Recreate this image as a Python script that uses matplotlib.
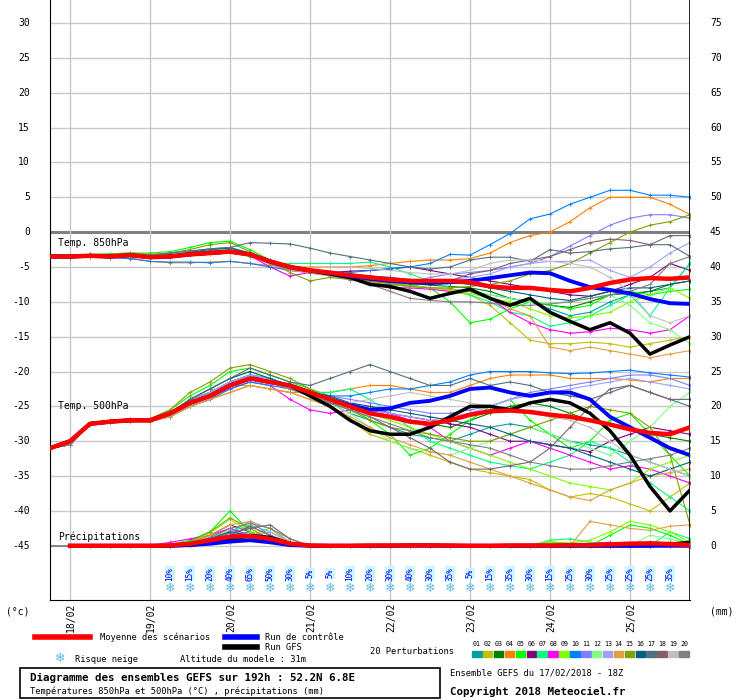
import matplotlib
matplotlib.use("Agg")
import matplotlib.pyplot as plt
import numpy as np
from matplotlib.patches import Rectangle

steps = list(range(33))  # 6-hourly steps from 17/02 18Z
day_labels = ["18/02","19/02","20/02","21/02","22/02","23/02","24/02","25/02"]
day_steps = [1,5,9,13,17,21,25,29]

member_colors = ["#00a0a0","#c0c000","#008000","#ff8000","#00ff00","#800080","#00ff80","#ff00ff",
                 "#80ff00","#0080ff","#8080ff","#80ff80","#a0a0ff","#e0a040","#80a000","#006080",
                 "#507080","#806070","#c0c0c0","#808080"]

mean850 = [-3.5,-3.5,-3.4,-3.5,-3.3,-3.6,-3.5,-3.2,-3.0,-2.8,-3.2,-4.2,-5.0,-5.5,-5.8,-6.2,-6.5,-6.8,-7.0,-7.0,-7.0,-7.2,-7.8,-8.0,-8.0,-8.3,-8.5,-8.0,-7.3,-6.8,-6.6,-6.7,-6.5]
ctrl850 = [-3.5,-3.5,-3.4,-3.5,-3.3,-3.6,-3.5,-3.2,-3.0,-2.8,-3.2,-4.2,-5.0,-5.5,-5.9,-6.3,-6.7,-7.0,-7.2,-7.3,-7.2,-7.0,-6.6,-6.2,-5.8,-5.9,-7.0,-7.9,-8.3,-8.8,-9.6,-10.2,-10.3]
gfs850 = [-3.5,-3.5,-3.4,-3.5,-3.3,-3.6,-3.5,-3.2,-3.0,-2.8,-3.2,-4.2,-5.0,-5.5,-6.0,-6.5,-7.5,-7.8,-8.5,-9.5,-8.8,-8.2,-9.5,-10.5,-9.5,-11.5,-12.8,-14.0,-13.0,-14.5,-17.5,-16.2,-15.0]

mean500 = [-31,-30,-27.5,-27.2,-27,-27,-26,-24.5,-23.5,-22,-21,-21.5,-22,-23,-24,-25,-26,-26.5,-27.2,-27.5,-27,-26.2,-25.7,-25.6,-25.8,-26.2,-26.5,-27,-27.6,-28.3,-28.8,-29,-28]
ctrl500 = [-31,-30,-27.5,-27.2,-27,-27,-26,-24.5,-23.5,-22,-21,-21.5,-22,-23,-24,-24.8,-25.5,-25.3,-24.5,-24.2,-23.5,-22.5,-22.3,-23,-23.5,-23,-23,-24,-26.5,-28,-29.5,-31,-32]
gfs500 = [-31,-30,-27.5,-27.2,-27,-27,-26,-24.5,-23.5,-22,-21,-21.5,-22,-23.5,-25,-27,-28.5,-29,-29,-28,-26.5,-25,-25,-25.5,-24.5,-24,-24.5,-26,-28.5,-32,-36.5,-40,-37]

m850 = [
 [-3.3,-3.4,-3.2,-3.3,-3.1,-3.4,-3.2,-2.8,-2.4,-2.2,-3.0,-4.2,-5.2,-5.6,-6.0,-6.5,-7.0,-7.5,-7.8,-8.0,-8.2,-8.5,-9.0,-9.5,-10.0,-11.0,-12.0,-11.5,-10.0,-9.0,-8.5,-8.0,-4.5],
 [-3.4,-3.5,-3.5,-3.4,-3.4,-3.6,-3.5,-3.3,-3.2,-3.0,-3.5,-4.5,-5.3,-5.8,-6.2,-6.5,-7.0,-7.3,-7.6,-8.0,-8.5,-9.0,-10.5,-13.0,-15.5,-16.0,-16.0,-15.8,-16.0,-16.5,-16.0,-15.5,-15.0],
 [-3.6,-3.5,-3.4,-3.5,-3.3,-3.5,-3.3,-3.0,-2.6,-2.3,-3.2,-4.5,-5.4,-5.8,-6.2,-6.6,-7.0,-7.2,-7.4,-7.6,-7.8,-8.0,-8.5,-9.5,-10.0,-10.5,-10.8,-10.0,-9.0,-8.8,-8.5,-7.5,-7.0],
 [-3.5,-3.6,-3.5,-3.5,-3.7,-4.2,-4.4,-4.4,-4.3,-4.2,-4.5,-4.8,-5.0,-5.0,-5.0,-5.0,-4.8,-4.5,-4.2,-4.0,-4.0,-3.8,-3.0,-1.5,-0.5,0.0,1.5,3.5,5.0,5.0,5.0,4.0,2.5],
 [-3.2,-3.3,-3.2,-3.1,-3.0,-3.0,-2.8,-2.2,-1.5,-1.3,-2.5,-4.0,-5.0,-5.6,-6.0,-6.4,-7.0,-7.4,-7.6,-8.0,-10.0,-13.0,-12.5,-11.0,-10.0,-10.5,-11.0,-10.5,-9.0,-8.5,-9.0,-8.5,-8.2],
 [-3.5,-3.5,-3.4,-3.4,-3.3,-3.5,-3.4,-3.1,-2.8,-2.6,-3.3,-4.3,-5.2,-5.5,-5.8,-5.6,-5.5,-5.3,-5.0,-5.5,-6.0,-6.5,-7.0,-7.5,-8.0,-8.5,-9.0,-9.2,-8.5,-7.5,-6.5,-4.5,-5.5],
 [-3.4,-3.4,-3.3,-3.3,-3.2,-3.4,-3.2,-2.9,-2.5,-2.3,-3.5,-4.4,-4.5,-4.5,-4.5,-4.5,-4.3,-5.0,-6.0,-7.0,-8.0,-9.0,-10.0,-11.5,-12.0,-13.5,-13.0,-12.0,-10.5,-9.0,-12.0,-8.0,-4.5],
 [-3.5,-3.5,-3.4,-3.4,-3.3,-3.5,-3.4,-3.1,-2.8,-2.9,-3.4,-5.0,-6.3,-5.8,-6.2,-6.6,-7.5,-8.0,-8.0,-8.2,-8.5,-8.5,-9.5,-11.5,-13.0,-14.0,-14.5,-14.3,-13.8,-14.0,-14.5,-14.0,-12.0],
 [-3.4,-3.4,-3.3,-3.3,-3.2,-3.4,-3.3,-3.0,-2.7,-2.5,-3.2,-4.3,-5.2,-5.7,-6.0,-6.4,-7.2,-7.5,-7.7,-8.0,-8.3,-8.8,-9.5,-10.0,-11.0,-12.0,-12.3,-12.0,-11.5,-10.0,-9.0,-8.0,-9.5],
 [-3.7,-3.7,-3.6,-3.7,-3.8,-4.2,-4.3,-4.3,-4.4,-4.2,-4.5,-5.0,-5.5,-5.8,-6.0,-5.8,-5.5,-5.2,-5.0,-4.5,-3.2,-3.3,-1.8,-0.2,1.9,2.6,4.0,5.0,6.0,6.0,5.3,5.3,5.0],
 [-3.5,-3.5,-3.4,-3.4,-3.3,-3.5,-3.3,-2.9,-2.5,-2.6,-3.3,-4.6,-5.5,-5.8,-6.2,-6.6,-7.0,-7.3,-7.2,-6.5,-6.0,-5.8,-5.5,-5.0,-4.5,-3.5,-2.0,-0.5,1.0,2.0,2.5,2.5,2.0],
 [-3.4,-3.4,-3.3,-3.3,-3.2,-3.4,-3.2,-2.9,-2.6,-2.4,-3.2,-4.3,-5.2,-5.6,-6.0,-6.5,-7.0,-7.4,-7.8,-8.0,-8.2,-8.5,-9.0,-9.5,-10.0,-10.2,-10.0,-9.5,-9.0,-10.5,-13.0,-14.0,-16.0],
 [-3.5,-3.5,-3.4,-3.4,-3.3,-3.5,-3.4,-3.0,-2.7,-2.5,-3.3,-4.4,-5.3,-5.7,-6.0,-6.4,-6.8,-7.0,-7.2,-7.0,-6.8,-6.5,-6.0,-5.0,-4.5,-4.2,-4.2,-4.0,-5.5,-6.5,-5.0,-3.0,-1.5],
 [-3.5,-3.6,-3.5,-3.5,-3.4,-3.6,-3.5,-3.2,-3.0,-2.8,-3.4,-4.6,-5.4,-5.9,-6.3,-6.8,-7.2,-7.5,-7.8,-8.0,-8.2,-8.5,-9.5,-11.0,-12.0,-16.5,-17.0,-16.5,-17.0,-17.5,-18.0,-17.5,-17.0],
 [-3.3,-3.3,-3.2,-3.2,-3.0,-3.2,-3.0,-2.5,-1.8,-1.5,-2.8,-4.2,-5.8,-7.0,-6.5,-6.8,-7.0,-7.4,-7.8,-8.0,-8.0,-7.8,-7.5,-7.0,-6.0,-5.5,-4.5,-3.0,-1.5,0.0,1.0,1.5,2.5],
 [-3.5,-3.5,-3.4,-3.4,-3.3,-3.5,-3.3,-2.9,-2.5,-2.3,-3.0,-4.0,-5.0,-5.5,-5.8,-6.0,-6.3,-6.5,-6.8,-7.0,-7.2,-7.5,-8.0,-8.5,-9.0,-9.5,-9.8,-9.2,-8.5,-8.0,-8.0,-7.5,-7.0],
 [-3.5,-3.5,-3.4,-3.4,-3.3,-3.3,-3.0,-2.7,-2.4,-2.2,-1.5,-1.6,-1.7,-2.3,-3.0,-3.5,-4.0,-4.5,-5.0,-5.3,-5.0,-4.0,-3.6,-3.6,-4.2,-2.5,-3.0,-2.8,-2.4,-2.2,-1.8,-1.8,-3.5],
 [-3.5,-3.5,-3.4,-3.4,-3.3,-3.5,-3.4,-3.1,-2.8,-2.6,-3.3,-4.5,-5.3,-5.7,-6.0,-6.4,-6.8,-7.0,-7.4,-7.5,-7.0,-6.0,-5.5,-4.5,-4.0,-3.5,-2.5,-1.5,-1.0,-1.2,-1.8,-0.5,-0.5],
 [-3.5,-3.5,-3.4,-3.4,-3.3,-3.5,-3.4,-3.1,-2.8,-2.6,-3.3,-4.4,-5.0,-5.2,-5.0,-5.0,-5.2,-5.5,-5.8,-6.0,-6.0,-5.5,-4.5,-4.0,-4.0,-4.2,-4.5,-5.0,-6.5,-8.5,-12.0,-13.0,-12.0],
 [-3.5,-3.5,-3.4,-3.4,-3.3,-3.5,-3.4,-3.1,-2.8,-2.6,-3.3,-4.4,-5.2,-5.8,-6.2,-6.8,-7.5,-8.5,-9.5,-9.8,-10.0,-10.0,-10.2,-10.5,-10.5,-10.3,-10.0,-9.5,-9.0,-8.5,-7.5,-4.5,-3.5],
]

m500 = [
 [-31,-30.5,-27.5,-27.2,-27,-27,-26,-24.5,-23.5,-22,-21,-21.5,-22.5,-23.5,-24.5,-26,-27,-28,-29,-29.5,-30,-29,-28,-27.5,-28,-29,-30,-30.5,-31,-32,-33,-34,-35],
 [-31,-30.5,-27.5,-27.2,-27,-27,-26.5,-25,-24,-22,-22,-22.5,-23,-24,-25,-27,-29,-30,-31,-32,-33,-34,-34.5,-35,-35.5,-37,-38,-37.5,-38,-39,-40,-38,-36],
 [-31,-30.5,-27.5,-27.2,-27,-27,-26,-24,-23,-21.5,-20.5,-21,-22,-23,-24,-25,-26,-26.5,-27,-27.5,-28,-27,-26,-25,-24.5,-25,-26,-27,-27.5,-28,-29,-29.5,-30],
 [-31,-30.5,-27.5,-27.3,-27.2,-27.2,-26.5,-25,-24,-23,-22,-22.5,-23,-23,-23,-22.5,-22,-22,-22.5,-23,-23,-22,-21,-20.5,-20.5,-20.5,-21,-21,-21,-21.2,-21.5,-21,-21],
 [-31,-30.5,-27.5,-27,-26.8,-26.8,-25.5,-23.5,-22,-20,-19.5,-20.5,-21.5,-22.5,-23.5,-25,-27,-29,-32,-31,-29,-27,-25,-24,-27,-29,-31,-30,-27,-26,-29,-32,-35],
 [-31,-30.5,-27.5,-27.2,-27,-27,-26,-24,-23,-21.5,-20.5,-21.5,-22.5,-23.5,-24.5,-25,-25.5,-26,-26.5,-27,-27.5,-28,-29,-30,-30,-30.5,-31,-31.5,-30,-29,-28,-28.5,-29],
 [-31,-30.5,-27.5,-27.2,-27,-27,-26,-24,-23,-21.5,-20.5,-21,-22,-23,-23,-22.5,-24,-26,-28,-30,-31,-32,-33,-33.5,-34,-33,-32,-30,-31,-33,-36,-38,-40],
 [-31,-30.5,-27.5,-27.2,-27,-27,-26,-24.5,-23.5,-22.5,-21.5,-22,-24,-25.5,-26,-25.5,-25,-26,-27,-28,-30,-31,-32,-31,-30,-31,-32,-33,-34,-33.5,-34,-35,-36],
 [-31,-30.5,-27.5,-27.2,-27,-27,-26,-24,-22.5,-21,-20,-21,-22,-23,-24,-25,-26,-27,-28,-29,-30,-31,-32,-33,-34,-35,-36,-36.5,-37,-36,-34,-33,-32],
 [-31,-30.5,-27.5,-27.2,-27,-27,-26.5,-25,-24,-22.5,-21.5,-22,-22.5,-23,-23.5,-23.5,-23,-22.5,-22.5,-22,-21.5,-20.5,-20,-20,-20,-20.2,-20.3,-20.2,-20,-19.8,-20.2,-20.5,-20.8],
 [-31,-30.5,-27.5,-27.2,-27,-27,-26,-24,-23,-21.5,-20.5,-21,-22,-23,-23.5,-24,-24.5,-25,-25.5,-26,-26,-25.5,-25,-24,-23,-22.5,-22,-21.5,-21,-20.5,-20.5,-21,-22],
 [-31,-30.5,-27.5,-27.2,-27,-27,-26,-24.5,-23.5,-22,-21,-21.5,-22.5,-23.5,-24.5,-26,-28,-30,-31,-31.5,-32,-31,-30,-29,-28,-29,-30,-31,-32,-30,-28,-25,-23],
 [-31,-30.5,-27.5,-27.2,-27,-27,-26,-24,-23,-21.5,-20.5,-21,-22,-23,-24,-25,-25.5,-26,-26.5,-27,-26.5,-26,-25,-24,-23.5,-23,-22.5,-22,-21.5,-21,-21.5,-22,-22.5],
 [-31,-30.5,-27.5,-27.3,-27.2,-27.2,-26.5,-25,-24,-23,-22,-22.5,-23,-24,-25,-26.5,-28,-29.5,-30.5,-31.5,-32,-33,-34,-35,-36,-37,-38,-38.5,-37,-36,-35,-34.5,-34],
 [-31,-30.5,-27.5,-27,-26.8,-26.8,-25.5,-23,-21.5,-19.5,-19,-20,-21,-22.5,-24,-25.5,-27,-28,-28.5,-29,-29.5,-30,-30,-29,-28,-27,-26,-25,-25.5,-26,-28,-32,-42],
 [-31,-30.5,-27.5,-27.2,-27,-27,-26,-24,-22.5,-21,-20,-21,-22,-23,-23.5,-24.5,-25,-25.5,-26,-26.5,-27,-27.5,-28,-29,-30,-30.5,-31,-32,-33,-34,-35,-34,-33],
 [-31,-30.5,-27.5,-27.2,-27,-27,-26,-24,-22.5,-21,-19.5,-20.5,-21.5,-22,-21,-20,-19,-20,-21,-22,-22,-21,-22,-21.5,-22,-23,-23.5,-24,-23,-22,-23,-24,-25],
 [-31,-30.5,-27.5,-27.2,-27,-27,-26,-24.5,-23.5,-22,-21,-21.5,-22.5,-23.5,-24.5,-25.5,-26.5,-28,-29.5,-31,-33,-34,-34,-33.5,-33,-31,-28,-25,-22.5,-22,-23,-24,-24],
 [-31,-30.5,-27.5,-27.2,-27,-27,-26,-24.5,-23.5,-22,-21,-21.5,-22.5,-23.5,-24,-24.5,-24,-23.5,-23,-23.5,-24,-24.5,-25,-25.5,-26,-26.5,-27,-28,-30,-32,-33,-34,-35],
 [-31,-30.5,-27.5,-27.2,-27,-27,-26,-24.5,-23.5,-22,-21,-21.5,-22.5,-23.5,-24.5,-25.5,-26.5,-27.5,-28.5,-29.5,-30,-30.5,-31,-32,-33,-33.5,-34,-34,-33.5,-33,-32.5,-32,-31],
]

# precipitation (mm) for steps 6..13 and 25..32 per member; other steps are 0
pr_early = [
 [0,0.2,0.8,1.5,2.0,1.0,0.2,0],[0,0.3,1.0,2.5,1.5,2.5,0.5,0],[0,0.1,0.5,1.0,1.2,0.8,0.2,0],
 [0,0.2,0.6,1.5,2.8,1.5,0.3,0],[0.2,0.8,2.0,5.0,2.0,1.0,0.2,0],[0,0.5,1.5,3.0,2.0,1.0,0.2,0],
 [0,0.3,1.2,2.0,3.0,2.0,0.5,0],[0.5,1.0,1.5,2.5,1.5,1.0,0.2,0],[0,0.5,1.8,3.8,2.0,1.0,0.3,0],
 [0,0.1,0.4,0.6,1.0,0.8,0.2,0],[0,0.3,1.0,2.0,3.5,1.5,0.3,0],[0,0.2,0.8,1.5,1.0,0.5,0.1,0],
 [0,0.2,0.8,2.2,1.5,2.0,0.5,0],[0,0.4,1.5,3.0,3.5,2.5,0.5,0],[0,0.6,2.0,4.0,2.5,1.0,0.2,0],
 [0,0.3,1.0,2.0,1.5,1.0,0.3,0],[0,0.2,1.0,1.8,2.5,3.0,1.0,0],[0,0.3,1.0,1.5,2.8,1.5,0.5,0],
 [0,0.2,0.5,1.0,1.5,1.0,0.2,0],[0,0.3,1.2,2.5,3.2,2.5,1.0,0],
]
pr_late = [
 [0,0,0,0,0,0.2,0.3,0],[0,0,0,0,0,0,0,0],[0,0,0,0.2,0.3,0.5,0.2,0],
 [0,0,0,0,0,0,0,0],[0.5,0.3,0,1.5,3.0,2.5,1.5,0.2],[0,0,0,0,0,0,0.3,0],
 [0.8,1.0,0.5,0.2,0,0,2.0,1.0],[0,0,0.3,0.5,0,0,0,0],[0.6,0.4,0.8,2.0,3.5,3.0,2.0,0.5],
 [0,0,0,0,0,0,0,0],[0,0,0,0,0,0,0,0],[0,0,0,0,0,1.5,1.0,0.2],
 [0,0,0,0,0,0,0,0],[0,0,3.5,3.0,2.5,2.2,2.8,3.0],[0,0,0,0,0,0,0.5,0.5],
 [0,0,0,0,0,0,0.2,0],[0,0,0,0,0,0,0,0],[0,0,0,0,0,0,0.3,0],
 [0,0,0,0,0,0,0,0],[0,0,0,0,0,0,0.5,0],
]
mean_pr = [0,0,0,0,0,0,0.05,0.3,0.8,1.3,1.4,1.0,0.3,0.05,0,0,0.05,0.05,0.05,0.05,0.05,0,0,0.05,0.05,0.05,0.1,0.1,0.2,0.3,0.35,0.25,0.1]
ctrl_pr = [0,0,0,0,0,0,0,0.1,0.3,0.6,0.8,0.5,0.1,0,0,0,0,0,0,0,0,0,0,0,0,0,0,0,0,0,0,0,0]
gfs_pr = [0,0,0,0,0,0,0,0.1,0.4,0.8,1.5,1.2,0.3,0,0,0,0,0,0.1,0.1,0,0,0,0,0,0,0,0,0,0,0,0.2,0.5]

snow_steps = list(range(6, 32))
snow_pct = [10,15,20,40,65,50,30,5,5,10,20,30,40,30,35,5,15,35,30,15,25,30,25,25,25,35]

PR0 = -45
mono = "DejaVu Sans Mono"
FS = 7
LFS = 6.3
fig = plt.figure(figsize=(7.4, 7.0), dpi=100)
ax = fig.add_axes([50/740, 100/700, 640/740, 600/700])
ax.set_xlim(0, 32)
ax.set_ylim(-52.78, 33.3)

for v in range(-45, 31, 5):
    ax.axhline(v, color="#c8c8c8", lw=1.0, zorder=1)
ax.axhline(0, color="#808080", lw=2.2, zorder=1)
for s in day_steps:
    ax.axvline(s, color="#c8c8c8", lw=1.0, zorder=1)

for i in range(20):
    c = member_colors[i]
    ax.plot(steps, m850[i], color=c, lw=0.8, marker="+", ms=3, mew=0.6, zorder=2)
    ax.plot(steps, m500[i], color=c, lw=0.8, marker="+", ms=3, mew=0.6, zorder=2)
    pr = [0]*6 + pr_early[i] + [0]*11 + pr_late[i]
    ax.plot(steps, [PR0 + p for p in pr], color=c, lw=0.8, marker="+", ms=3, mew=0.6, zorder=2)

for d, c, lw in [(gfs850, "black", 2.5), (ctrl850, "#0000ff", 2.8), (mean850, "#ff0000", 3.2)]:
    ax.plot(steps, d, color=c, lw=lw, zorder=4)
for d, c, lw in [(gfs500, "black", 2.5), (ctrl500, "#0000ff", 2.8), (mean500, "#ff0000", 3.2)]:
    ax.plot(steps, d, color=c, lw=lw, zorder=4)
for d, c, lw in [(gfs_pr, "black", 2.5), (ctrl_pr, "#0000ff", 2.8), (mean_pr, "#ff0000", 3.2)]:
    ax.plot(steps[1:], [PR0 + p for p in d[1:]], color=c, lw=lw, zorder=4)

for s, p in zip(snow_steps, snow_pct):
    ax.text(s, -49.0, f"{p}%", rotation=90, ha="center", va="center", fontsize=5.5,
            color="#0000ff", family=mono,
            bbox=dict(boxstyle="square,pad=0.1", fc="#ccf8ff", ec="none"), zorder=5)
    ax.text(s, -51.2, "❄", ha="center", va="center", fontsize=9, color="#60b8e8", zorder=5)

ax.text(0.4, -1.6, "Temp. 850hPa", fontsize=FS, family=mono, va="center", zorder=6)
ax.text(0.4, -25.0, "Temp. 500hPa", fontsize=FS, family=mono, va="center", zorder=6)
ax.text(0.4, -43.7, "Précipitations", fontsize=FS, family=mono, va="center", zorder=6)

ax.set_xticks([])
ax.set_yticks([])
for sp in ["top", "right"]:
    ax.spines[sp].set_visible(False)
ax.axvline(32, color="black", lw=1.2)

ticks = list(range(-45, 31, 5))
for v in ticks:
    ax.text(-1.0, v, str(v), ha="right", va="center", fontsize=FS, family=mono, clip_on=False)
    ax.text(33.0, v, str(v + 45), ha="left", va="center", fontsize=FS, family=mono, clip_on=False)
ax.text(-1.0, -53.7, "(°c)", ha="right", va="top", fontsize=FS, family=mono, clip_on=False)
ax.text(33.0, -53.7, "(mm)", ha="left", va="top", fontsize=FS, family=mono, clip_on=False)
for s, lab in zip(day_steps, day_labels):
    ax.text(s + 0.05, -53.2, lab, rotation=90, ha="center", va="top", fontsize=FS, family=mono, clip_on=False)

def ft(x, y, s, **kw):
    fig.text(x/740, 1 - y/700, s, family=mono, fontsize=kw.pop("fs", LFS), va="center", **kw)

fig.add_artist(plt.Line2D([35/740, 90/740], [1-637/700]*2, color="#ff0000", lw=4))
ft(100, 637, "Moyenne des scénarios")
fig.add_artist(plt.Line2D([225/740, 257/740], [1-637/700]*2, color="#0000ff", lw=4))
ft(265, 637, "Run de contrôle")
fig.add_artist(plt.Line2D([225/740, 257/740], [1-647/700]*2, color="black", lw=4))
ft(265, 647, "Run GFS")
fig.text(60/740, 1-658/700, "❄", fontsize=9, color="#60b8e8", ha="center", va="center")
ft(75, 659, "Risque neige")
ft(180, 660, "Altitude du modele : 31m")
ft(370, 652, "20 Perturbations")
for i, c in enumerate(member_colors):
    x0 = 472 + i*10.9
    fig.add_artist(Rectangle((x0/740, 1-657/700), 9.5/740, 6/700, color=c, transform=fig.transFigure))
    ft(x0 + 5, 644, f"{i+1:02d}", fs=4.8, ha="center")
fig.add_artist(Rectangle((20/740, 2/700), 420/740, 30/700, fill=False, ec="black", lw=1.2,
                         transform=fig.transFigure))
ft(30, 678, "Diagramme des ensembles GEFS sur 192h : 52.2N 6.8E", fs=7.8, weight="bold")
ft(30, 691, "Températures 850hPa et 500hPa (°C) , précipitations (mm)", fs=LFS)
ft(450, 673, "Ensemble GEFS du 17/02/2018 - 18Z", fs=LFS)
ft(450, 692, "Copyright 2018 Meteociel.fr", fs=7.8, weight="bold")

fig.savefig("out.png", dpi=100)
